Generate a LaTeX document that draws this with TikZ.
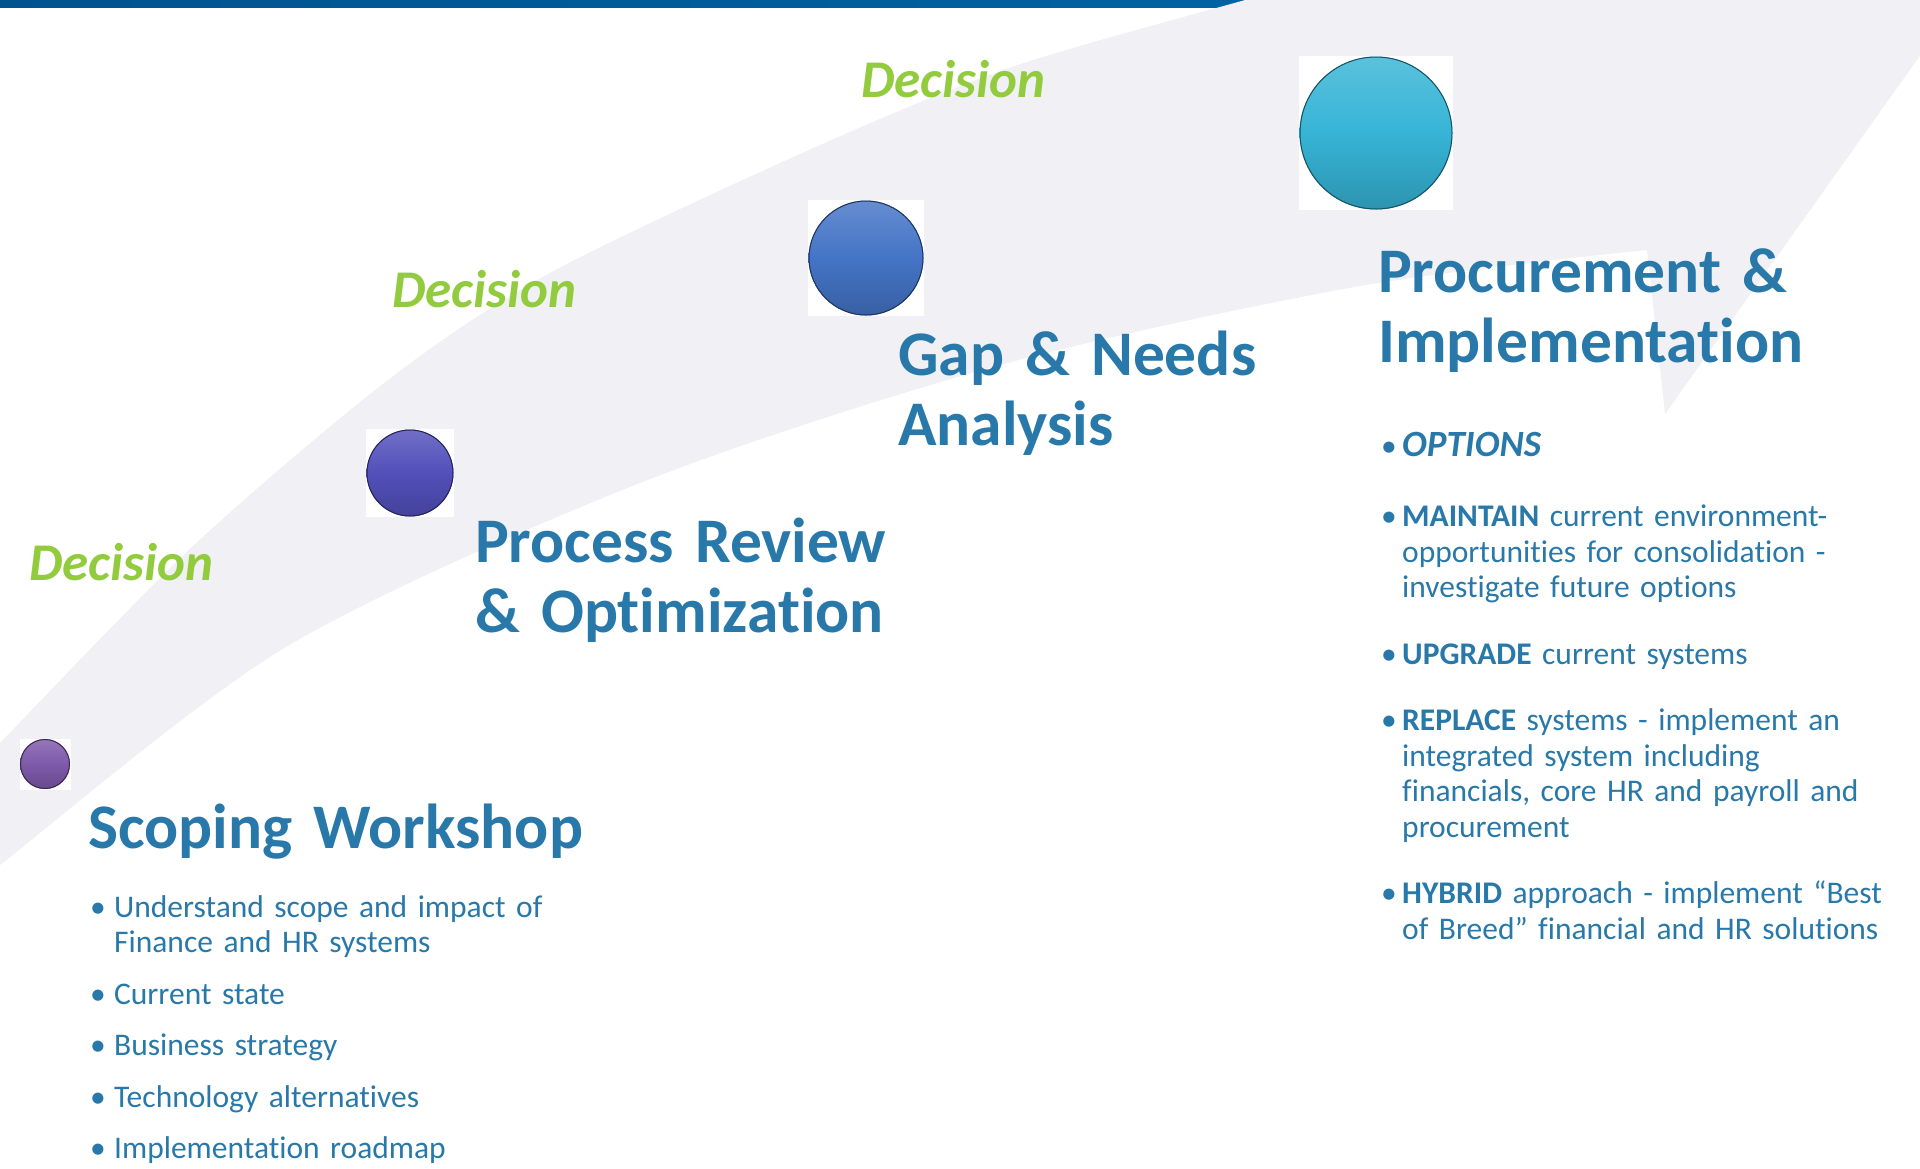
\documentclass[tikz,border=0pt]{standalone}
\usepackage{fontspec}
\setmainfont{Carlito}[Ligatures=NoCommon]
\usepackage{tikz}
\usetikzlibrary{positioning}

\definecolor{barblue}{RGB}{0,106,174}
\definecolor{bardark}{RGB}{0,84,142}
\definecolor{bandgrey}{RGB}{240,240,245}
\definecolor{headblue}{RGB}{40,121,169}
\definecolor{decisiongreen}{RGB}{146,204,62}
\definecolor{purplebead}{RGB}{126,90,170}
\definecolor{indigobead}{RGB}{82,80,186}
\definecolor{bluebead}{RGB}{68,116,198}
\definecolor{cyanbead}{RGB}{54,180,214}

\newcommand\bulletitem[2]{\hangindent=#1\hangafter=1\noindent\makebox[#1][l]{\textbullet}#2\par}

\begin{document}
\begin{tikzpicture}[x=1pt, y=-1pt]
    % Setup the styles for the beads and the texts
    \tikzset{
      bead style/.style 2 args={
        rectangle,
        fill=white,
        inner sep=0,
        minimum size=#1,
        path picture={
          \shade[top color=#2!82!white, bottom color=#2!82!black, middle color=#2]
            (path picture bounding box.center) circle[radius={(#1/2-0.5)*1pt}];
          \draw[#2!45!black, line width=1pt]
            (path picture bounding box.center) circle[radius={(#1/2-1)*1pt}];}},
      decision style/.style={
        font=\fontsize{53}{60}\selectfont\bfseries\itshape,
        text=decisiongreen,
        anchor=base west,
        inner sep=0},
      heading style/.style={
        font=\fontsize{63.5}{70}\selectfont\bfseries,
        text=headblue,
        anchor=base west,
        inner sep=0,
        text width=560,
        align=left},
      list style/.style={
        font=\fontsize{31.5}{35.5}\selectfont,
        text=headblue,
        anchor=base west,
        inner sep=0,
        text width=#1,
        align=left}}
    \useasboundingbox (0, 0) rectangle (1920, 1168);
    \clip (0, 0) rectangle (1920, 1168);

    % Draw the top bar and the big curved arrow
    \shade[left color=bardark, right color=barblue] (0, 0) rectangle (1920, 7.5);
    \fill[bandgrey]
      plot[smooth] coordinates {(-20, 764) (0, 743) (192, 547) (388, 380) (550, 273)
                                (809, 150) (1012, 67) (1245, 0) (1275, -9)}
      -- (1966, -9) -- (1665, 414) -- (1647, 250)
      -- plot[smooth] coordinates {(1647, 250) (1360, 286) (1000, 365) (640, 483)
                                   (286, 647) (0, 865) (-20, 881)}
      -- cycle;

    % Draw the beads
    \node[bead style={51}{purplebead}]  at (45, 764)   (bead1) {};
    \node[bead style={88}{indigobead}]  at (410, 473)  (bead2) {};
    \node[bead style={116}{bluebead}]   at (866, 258)  (bead3) {};
    \node[bead style={154}{cyanbead}]   at (1376, 133) (bead4) {};

    % Decision labels
    \node[decision style] at (29, 580)  (decision1) {Decision};
    \node[decision style] at (392, 307) (decision2) {Decision};
    \node[decision style] at (861, 97)  (decision3) {Decision};

    % Stage headings
    \node[heading style] at (88, 848)   (scoping) {Scoping Workshop};
    \node[heading style] at (475, 562)  (process) {Process Review\\\& Optimization};
    \node[heading style] at (898, 375)  (gap)     {Gap \& Needs\\Analysis};
    \node[heading style] at (1378, 292) (procure) {Procurement \&\\Implementation};

    % Bullet lists
    \node[list style=500] at (90, 917) (scopelist) {\setlength\parskip{16pt}%
      \bulletitem{24pt}{Understand scope and impact of\newline Finance and HR systems}%
      \bulletitem{24pt}{Current state}%
      \bulletitem{24pt}{Business strategy}%
      \bulletitem{24pt}{Technology alternatives}%
      \bulletitem{24pt}{Implementation roadmap}};
    \node[list style=530] at (1381, 456) (optionlist) {\setlength\parskip{31pt}%
      \bulletitem{21pt}{{\fontsize{37}{40}\selectfont\textbf{\textit{OPTIONS}}}\vspace{4pt}}%
      \bulletitem{21pt}{\textbf{MAINTAIN} current environment-\newline opportunities for consolidation -\newline investigate future options}%
      \bulletitem{21pt}{\textbf{UPGRADE} current systems}%
      \bulletitem{21pt}{\textbf{REPLACE} systems - implement an\newline integrated system including\newline financials, core HR and payroll and\newline procurement}%
      \bulletitem{21pt}{\textbf{HYBRID} approach - implement “Best\newline of Breed” financial and HR solutions}};
\end{tikzpicture}
\end{document}
